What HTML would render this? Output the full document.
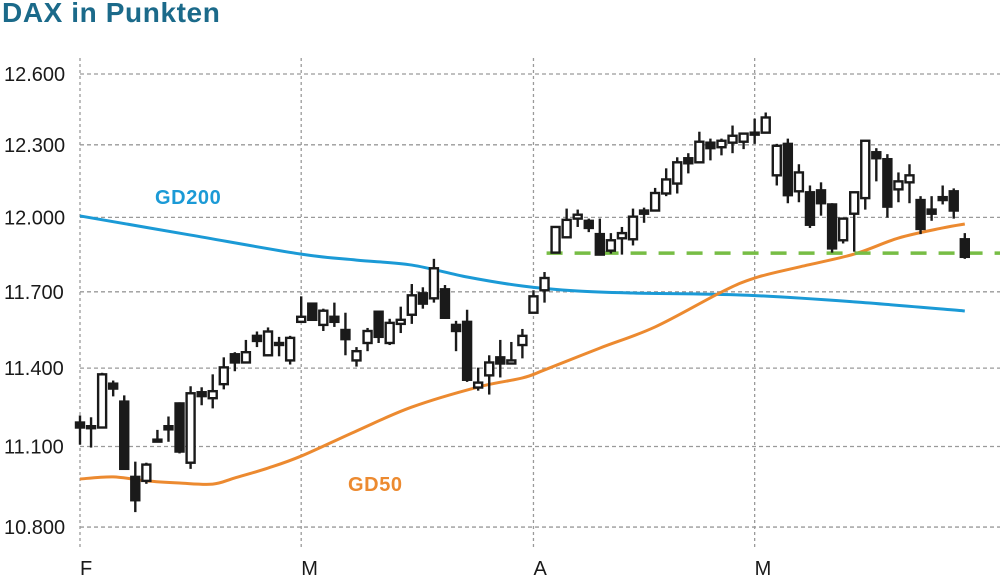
<!DOCTYPE html>
<html><head><meta charset="utf-8"><style>
html,body{margin:0;padding:0;background:#fff;}
body{width:1000px;height:580px;overflow:hidden;position:relative;font-family:"Liberation Sans",sans-serif;}
#title{position:absolute;left:2px;top:-3px;font-size:28px;font-weight:bold;color:#1b6a8a;letter-spacing:0.6px;}
svg{position:absolute;left:0;top:0;}
</style></head><body>
<div id="title">DAX in Punkten</div>
<svg id="chart" width="1000" height="580"></svg>
<script>
const yTicks=[12600,12300,12000,11700,11400,11100,10800];
const yTickLabels=["12.600","12.300","12.000","11.700","11.400","11.100","10.800"];
const monthIdx=[0,20,41,61];
const monthLabels=["F","M","A","M"];
const opens=[11191,11177,11172,11340,11271,10986,10971,11126,11177,11264,11039,11307,11284,11338,11454,11422,11526,11450,11498,11430,11581,11653,11569,11601,11549,11430,11498,11621,11498,11573,11609,11694,11674,11710,11569,11581,11325,11372,11442,11418,11490,11617,11706,11857,11919,11995,11986,11932,11865,11915,11911,12028,12028,12098,12139,12244,12227,12309,12290,12309,12313,12351,12351,12173,12304,12107,12103,12111,12053,11907,12015,12079,12269,12240,12115,12144,12071,12032,12083,12107,11911];
const highs=[11218,11211,11382,11352,11295,11043,11039,11163,11214,11268,11330,11326,11376,11442,11462,11510,11543,11559,11522,11526,11682,11657,11633,11657,11617,11482,11557,11621,11593,11641,11731,11718,11832,11727,11585,11629,11402,11450,11510,11502,11553,11706,11779,11965,12036,12032,11995,11995,11936,11961,12036,12040,12121,12202,12248,12265,12355,12326,12326,12381,12351,12410,12436,12304,12326,12219,12131,12144,12058,11999,12103,12317,12286,12261,12185,12219,12087,12087,12131,12119,11936];
const lows=[11107,11096,11172,11291,11016,10855,10960,11121,11118,11074,11016,11257,11245,11318,11388,11422,11482,11446,11446,11414,11581,11589,11545,11561,11450,11406,11466,11498,11490,11537,11573,11633,11657,11593,11466,11347,11313,11298,11364,11418,11438,11617,11657,11857,11915,11961,11940,11849,11853,11849,11886,11978,12028,12087,12098,12181,12227,12235,12256,12265,12282,12304,12351,12131,12058,12062,11957,12007,11857,11894,11861,12032,12148,11999,12062,12058,11932,11986,12053,11995,11832];
const closes=[11172,11170,11376,11321,11016,10899,11032,11122,11165,11081,11303,11292,11311,11403,11422,11462,11506,11543,11491,11518,11601,11589,11625,11581,11513,11466,11545,11522,11577,11589,11686,11653,11794,11597,11545,11355,11344,11422,11418,11430,11526,11682,11755,11961,11990,12011,11957,11849,11907,11936,12003,12015,12100,12156,12227,12223,12313,12286,12317,12338,12347,12347,12415,12296,12091,12185,11970,12058,11874,11995,12103,12317,12244,12044,12148,12173,11953,12015,12071,12028,11840];
const gd200Idx=[0,10,20,25,30,35,40,45,50,60,70,80];
const gd200Val=[12006,11928,11851,11827,11807,11759,11723,11703,11695,11687,11660,11624];
const gd50Idx=[0,3,6,9,12,14,17,20,25,30,36,40,42,47,52,58,61,65,70,74,78,80];
const gd50Val=[10978,10986,10971,10963,10959,10982,11019,11064,11159,11250,11327,11362,11393,11478,11561,11699,11755,11799,11851,11916,11957,11973];
const supportLevel=11855;
const supportStartIdx=43;

const NS="http://www.w3.org/2000/svg";
const svg=document.getElementById('chart');
const X0=80,DX=11.06;
function xs(i){return X0+i*DX;}
function ys(v){return 74+2939*Math.log(12600/v);}
function mk(tag,attrs,parent){const e=document.createElementNS(NS,tag);for(const k in attrs)e.setAttribute(k,attrs[k]);(parent||svg).appendChild(e);return e;}

const grid=mk('g',{});


yTicks.forEach((v,k)=>{
  const y=ys(v);
  const l=mk('line',{x1:80,x2:1000,y1:y,y2:y,stroke:'#9a9a9a','stroke-width':1.3,'stroke-dasharray':'4 3'},grid);
  
  
  const t=mk('text',{x:4,y:y+7,'font-size':20,fill:'#1a1a1a','font-family':'Liberation Sans, sans-serif'},grid);
  t.textContent=yTickLabels[k];
  
  
});
monthIdx.forEach((i,k)=>{
  const x=xs(i);
  const l=mk('line',{x1:x,x2:x,y1:58,y2:548,stroke:'#9a9a9a','stroke-width':1.3,'stroke-dasharray':'3 3'},grid);
  
  
  const t=mk('text',{x:x,y:575,'font-size':20,fill:'#1a1a1a','font-family':'Liberation Sans, sans-serif'},grid);
  t.textContent=monthLabels[k];
  
  
});

function smoothPath(idx,vals){
  const p=idx.map((i,k)=>[xs(i),ys(vals[k])]);
  let d='M'+p[0][0]+','+p[0][1];
  for(let k=0;k<p.length-1;k++){
    const p0=p[Math.max(0,k-1)],p1=p[k],p2=p[k+1],p3=p[Math.min(p.length-1,k+2)];
    const c1=[p1[0]+(p2[0]-p0[0])/6,p1[1]+(p2[1]-p0[1])/6];
    const c2=[p2[0]-(p3[0]-p1[0])/6,p2[1]-(p3[1]-p1[1])/6];
    d+=' C'+c1[0]+','+c1[1]+' '+c2[0]+','+c2[1]+' '+p2[0]+','+p2[1];
  }
  return d;
}
const g200=mk('path',{d:smoothPath(gd200Idx,gd200Val),fill:'none',stroke:'#1b9ad6','stroke-width':3});


const g50=mk('path',{d:smoothPath(gd50Idx,gd50Val),fill:'none',stroke:'#ec8a30','stroke-width':3});



const sup=mk('line',{x1:xs(supportStartIdx)-9,x2:1000,y1:ys(supportLevel),y2:ys(supportLevel),stroke:'#77bd45','stroke-width':3.5,'stroke-dasharray':'16 12'});



const cg=mk('g',{});


for(let i=0;i<opens.length;i++){
  const x=xs(i),o=opens[i],c=closes[i];
  const up=c>=o;
  const w=mk('line',{x1:x,x2:x,y1:ys(highs[i]),y2:ys(lows[i]),stroke:'#1a1a1a','stroke-width':2.4},cg);
  
  
  const top=ys(Math.max(o,c)),bot=ys(Math.min(o,c));
  const h=Math.max(bot-top,2);
  const r=mk('rect',{x:x-4,y:top,width:8,height:h,fill:up?'#fff':'#1a1a1a',stroke:'#1a1a1a','stroke-width':2.4},cg);
  
  
}

const l200=mk('text',{x:155,y:204,'font-size':20,'font-weight':'bold',fill:'#1b9ad6','font-family':'Liberation Sans, sans-serif','letter-spacing':0.6});
l200.textContent='GD200';


const l50=mk('text',{x:348,y:491,'font-size':20,'font-weight':'bold',fill:'#ec8a30','font-family':'Liberation Sans, sans-serif','letter-spacing':0.6});
l50.textContent='GD50';


</script>
</body></html>
